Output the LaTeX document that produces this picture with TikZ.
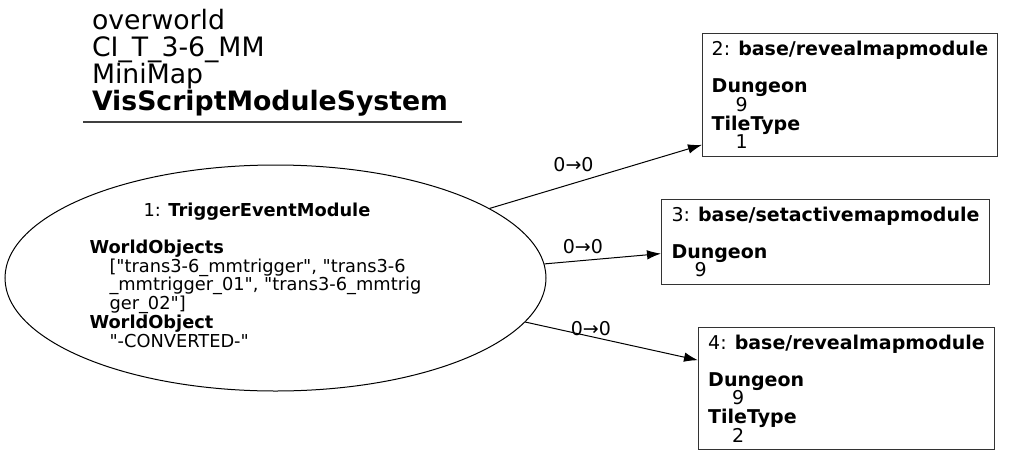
\documentclass[tikz,border=0pt]{standalone}
\usepackage{fontspec}
\setmainfont{DejaVu Sans}
\usetikzlibrary{arrows.meta,calc,shapes.geometric}
\newcommand{\qd}{\textquotedbl}
\tikzset{txt/.style={font=\fontsize{17.8}{18.7}\selectfont,
                     inner sep=0pt,
                     align=left},
         module/.style={font=\fontsize{19}{18.7}\selectfont,
                        inner sep=0pt,
                        draw=black!80,
                        rectangle,
                        anchor=north west,
                        align=left},
         edgelabel/.style={font=\fontsize{19}{19}\selectfont,
                           inner sep=0pt},
         trigger/.style={draw,
                         ellipse,
                         inner sep=0pt,
                         minimum width=541pt,
                         minimum height=226pt},
         header/.style={font=\fontsize{26.7}{27}\selectfont,
                        inner sep=0pt,
                        align=left}}

\begin{document}
\begin{tikzpicture}[x=1pt,y=-1pt,line width=1pt,>={Latex[length=14pt,width=9.5pt]}]
    \useasboundingbox (0,0) rectangle (1011,455);
    % We start with the header and its rule
    \node [header, anchor=base west] (hdr) at (91.5,110)
        {overworld\\CI\_T\_3-6\_MM\\MiniMap\\\textbf{VisScriptModuleSystem}};
    \coordinate (ruleA) at (83,122);
    \coordinate (ruleB) at (462,122);
    \draw [black!75, line width=1.3pt] (ruleA) -- (ruleB);
    % the trigger module and its text
    \node [trigger] (Trigger) at (275.5,278) {};
    \node [txt, anchor=base] (TriggerName) at (257,216) {1: \textbf{TriggerEventModule}};
    \node [txt, anchor=base west] (TriggerArgs) at (89,347)
        {\textbf{WorldObjects}\\
         \hspace*{20pt}[\qd trans3-6\_mmtrigger\qd, \qd trans3-6\\
         \hspace*{20pt}\_mmtrigger\_01\qd, \qd trans3-6\_mmtrig\\
         \hspace*{20pt}ger\_02\qd]\\
         \textbf{WorldObject}\\
         \hspace*{20pt}\qd-CONVERTED-\qd};
    % the three target modules
    \node [module, minimum width=295pt, minimum height=123pt] (Reveal1) at (702,33)
        {2: \textbf{base/revealmapmodule}\\[18.3pt]
         \textbf{Dungeon}\\\hspace*{24pt}9\\\textbf{TileType}\\\hspace*{24pt}1};
    \node [module, minimum width=328pt, minimum height=85pt] (SetActive) at (661,199)
        {3: \textbf{base/setactivemapmodule}\\[18.3pt]
         \textbf{Dungeon}\\\hspace*{23pt}9};
    \node [module, minimum width=296pt, minimum height=122pt] (Reveal2) at (698,327)
        {4: \textbf{base/revealmapmodule}\\[18.3pt]
         \textbf{Dungeon}\\\hspace*{24pt}9\\\textbf{TileType}\\\hspace*{24pt}2};
    % We draw the edges from the trigger to each module
    \draw [->] (Trigger.18) -- node[edgelabel, pos=0.395, yshift=19pt] (e12) {0→0}
        ($(Reveal1.south west)!0.098!(Reveal1.north west)$);
    \draw [->] (Trigger.3.85) -- node[edgelabel, pos=0.33, yshift=14pt] (e13) {0→0}
        ($(SetActive.south west)!0.365!(SetActive.north west)$);
    \draw [->] (Trigger.-10.8) -- node[edgelabel, pos=0.38, yshift=8pt] (e14) {0→0}
        ($(Reveal2.south west)!0.73!(Reveal2.north west)$);
\end{tikzpicture}
\end{document}
